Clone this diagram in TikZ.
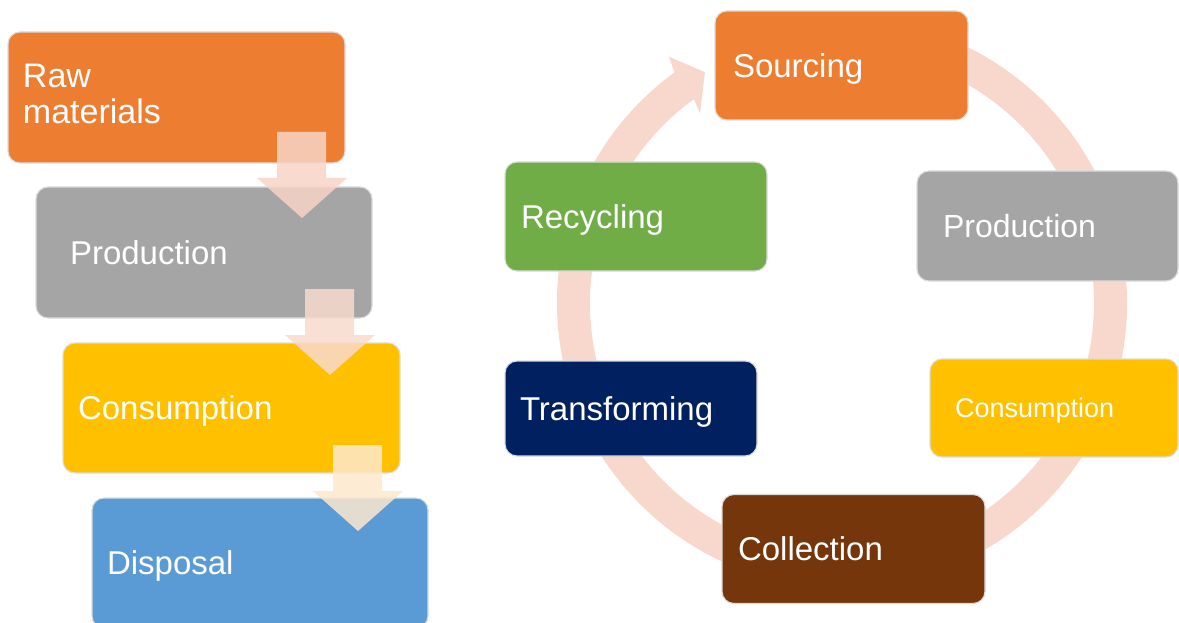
\documentclass[tikz,border=0pt]{standalone}
\usepackage{fontspec}
\setmainfont{Liberation Sans}
\usetikzlibrary{calc}
\definecolor{corange}{HTML}{ED7D31}
\definecolor{cgray}{HTML}{A5A5A5}
\definecolor{cyellow}{HTML}{FFC000}
\definecolor{cblue}{HTML}{5B9BD5}
\definecolor{cgreen}{HTML}{70AD47}
\definecolor{cnavy}{HTML}{002060}
\definecolor{cbrown}{RGB}{117,54,12}
\definecolor{ringc}{RGB}{248,215,204}
\definecolor{arrA}{RGB}{248,212,198}
\definecolor{arrB}{RGB}{248,218,206}
\definecolor{arrC}{RGB}{253,232,205}
\begin{document}
\begin{tikzpicture}[x=1pt,y=-1pt,
  box/.style={rectangle, rounded corners=12pt, draw=white!86!black, line width=1.1pt,
    text=white, align=left, font=\fontsize{33}{36}\selectfont, inner ysep=0pt},
  oneline/.style={text height=23.6pt, text depth=0pt},
  bw/.style n args={3}{minimum width=#1pt, minimum height=#2pt, inner xsep=#3pt, text width=#1pt-2*#3pt},
  blockarrow/.style={opacity=0.85}
]
\clip (0,0) rectangle (1179,623);
% ring with arrow head
\coordinate (c) at (842,303);
\fill[ringc] ($(c)+(-100:285)$) arc[start angle=-100, end angle=234, radius=285]
  -- ($(c)+(234.9:301)$) -- ($(c)+(239.3:268.5)$) -- ($(c)+(233.2:237)$)
  -- ($(c)+(234:252)$) arc[start angle=234, end angle=-100, radius=252] -- cycle;
% left process boxes
\node[box, fill=corange, bw={337}{131}{15}, font=\fontsize{34}{36}\selectfont, text height=17pt] (raw) at (176.5,97.5) {Raw\\materials};
\node[box, oneline, fill=cgray, bw={336}{131}{34}] (prod) at (204,252.5) {Production};
\node[box, oneline, fill=cyellow, bw={337}{130}{15}] (cons) at (231.5,408) {Consumption};
\node[box, oneline, fill=cblue, bw={336}{130}{15}] (disp) at (260,563) {Disposal};
% block arrows
\foreach \dx/\dy/\col in {0/0/arrA, 28/157/arrB, 56/313/arrC}{
  \begin{scope}[shift={(\dx,\dy)}]
    \fill[\col, blockarrow] (277,132) -- (326,132) -- (326,178) -- (347,178) -- (302,218)
      -- (257,178) -- (277,178) -- cycle;
  \end{scope}
}
% cycle boxes
\node[box, oneline, fill=corange, bw={253}{109}{18}] (src) at (841.5,65.5) {Sourcing};
\node[box, fill=cgray, bw={261}{110}{26}, font=\fontsize{32}{36}\selectfont, text height=22.9pt, text depth=0pt] (rprod) at (1047.5,226) {Production};
\node[box, fill=cyellow, bw={248}{98}{25}, font=\fontsize{27}{30}\selectfont, text height=19.3pt, text depth=0pt] (rcons) at (1054,408) {Consumption};
\node[box, oneline, fill=cbrown, bw={263}{109}{16}] (coll) at (853.5,549) {Collection};
\node[box, oneline, fill=cnavy, bw={252}{95}{15}] (trans) at (631,408.5) {Transforming};
\node[box, oneline, fill=cgreen, bw={262}{109}{16}] (recy) at (636,216.5) {Recycling};
\end{tikzpicture}
\end{document}
